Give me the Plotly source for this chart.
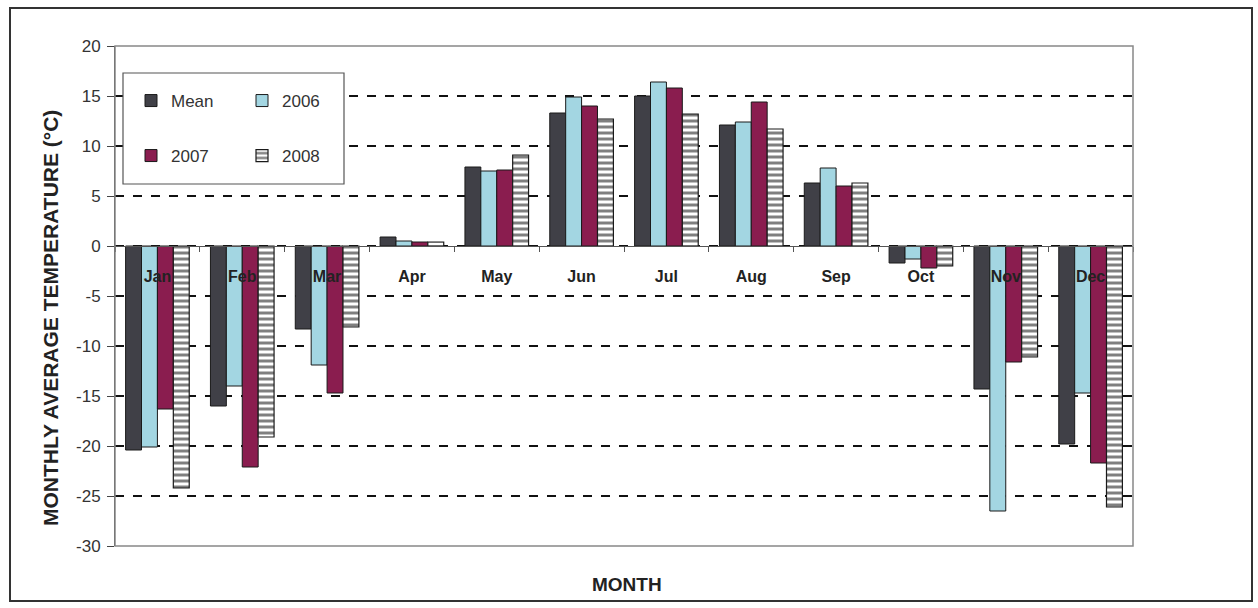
import plotly.graph_objects as go

months = ["Jan", "Feb", "Mar", "Apr", "May", "Jun", "Jul", "Aug", "Sep", "Oct", "Nov", "Dec"]
mean_t = [-20.4, -16.0, -8.3, 0.9, 7.9, 13.3, 15.0, 12.1, 6.3, -1.7, -14.3, -19.8]
t2006 = [-20.1, -14.0, -11.9, 0.5, 7.5, 14.9, 16.4, 12.4, 7.8, -1.3, -26.5, -14.7]
t2007 = [-16.3, -22.1, -14.7, 0.4, 7.6, 14.0, 15.8, 14.4, 6.0, -2.2, -11.6, -21.7]
t2008 = [-24.2, -19.1, -8.1, 0.4, 9.1, 12.7, 13.2, 11.7, 6.3, -2.0, -11.1, -26.1]
y_ticks = [20, 15, 10, 5, 0, -5, -10, -15, -20, -25, -30]
y_tick_text = ["20", "15", "10", "5", "0", "-5", "-10", "-15", "-20", "-25", "-30"]

FONT = "Liberation Sans, Arial, sans-serif"
OUT = "#1a1a1a"

fig = go.Figure()
fig.add_trace(go.Bar(x=months, y=mean_t, name="Mean", legend="legend",
                     marker=dict(color="#404047", line=dict(color=OUT, width=1))))
fig.add_trace(go.Bar(x=months, y=t2006, name="2006", legend="legend",
                     marker=dict(color="#a3d6e2", line=dict(color=OUT, width=1))))
fig.add_trace(go.Bar(x=months, y=t2007, name="2007", legend="legend2",
                     marker=dict(color="#8a1d4f", line=dict(color=OUT, width=1))))
fig.add_trace(go.Bar(x=months, y=t2008, name="2008", legend="legend2",
                     marker=dict(color="white", line=dict(color=OUT, width=1.2),
                                 pattern=dict(shape="-", fgcolor="black", bgcolor="white",
                                              size=6, solidity=0.5))))

L, R, T, B = 115, 125, 46, 62
W, H = 1258, 608
pw, ph = W - L - R, H - T - B

def px_x(x):
    return (x - L) / pw

def px_y(y):
    return 1 - (y - T) / ph

legend_common = dict(orientation="h", xanchor="left", yanchor="middle",
                     bgcolor="rgba(0,0,0,0)", borderwidth=0,
                     font=dict(family=FONT, size=17, color="#333333"),
                     entrywidth=66, entrywidthmode="pixels", itemwidth=30)

fig.update_layout(
    width=W, height=H,
    margin=dict(l=L, r=R, t=T, b=B),
    paper_bgcolor="white", plot_bgcolor="white",
    barmode="group", bargap=0.25, bargroupgap=0,
    font=dict(family=FONT, color="#333333"),
    legend=dict(x=px_x(131), y=px_y(101), **legend_common),
    legend2=dict(x=px_x(131), y=px_y(156), **legend_common),
    xaxis=dict(anchor="free", position=0.6, layer="above traces",
               showline=True, linecolor="#555555", linewidth=1,
               ticks="outside", ticklen=5, tickcolor="#555555", tickson="boundaries",
               tickfont=dict(family=FONT, size=16, color="#222222", weight="bold"),
               ticklabelstandoff=16, showgrid=False),
    yaxis=dict(range=[-30, 20], tickvals=y_ticks, ticktext=y_tick_text,
               showline=True, linecolor="#444444",
               linewidth=1, ticks="outside", ticklen=7, tickcolor="#444444",
               tickfont=dict(family=FONT, size=17, color="#333333"),
               ticklabelstandoff=3,
               showgrid=True, gridcolor="#111111", gridwidth=1.5, griddash="dash",
               zeroline=False),
    annotations=[
        dict(text="MONTH", xref="paper", yref="paper", x=px_x(627), y=px_y(584),
             showarrow=False, xanchor="center", yanchor="middle",
             font=dict(family=FONT, size=19, color="#222222", weight="bold")),
        dict(text="MONTHLY AVERAGE TEMPERATURE (°C)", xref="paper", yref="paper",
             x=px_x(50), y=px_y(318), textangle=-90, showarrow=False,
             xanchor="center", yanchor="middle",
             font=dict(family=FONT, size=21, color="#222222", weight="bold")),
    ],
    shapes=[
        dict(type="rect", xref="paper", yref="paper", x0=0, x1=1, y0=0, y1=1,
             line=dict(color="#888888", width=1.5), layer="above"),
        dict(type="rect", xref="paper", yref="paper", x0=px_x(10), x1=px_x(1252),
             y0=px_y(601), y1=px_y(8), line=dict(color="#333333", width=2), layer="above"),
        dict(type="rect", xref="paper", yref="paper", x0=px_x(123), x1=px_x(344),
             y0=px_y(184), y1=px_y(73), line=dict(color="#555555", width=1.2),
             fillcolor="white", layer="above"),
    ],
)

fig.write_html("out.html", config={"displayModeBar": False},
               post_script="document.body.style.margin='0px';")
